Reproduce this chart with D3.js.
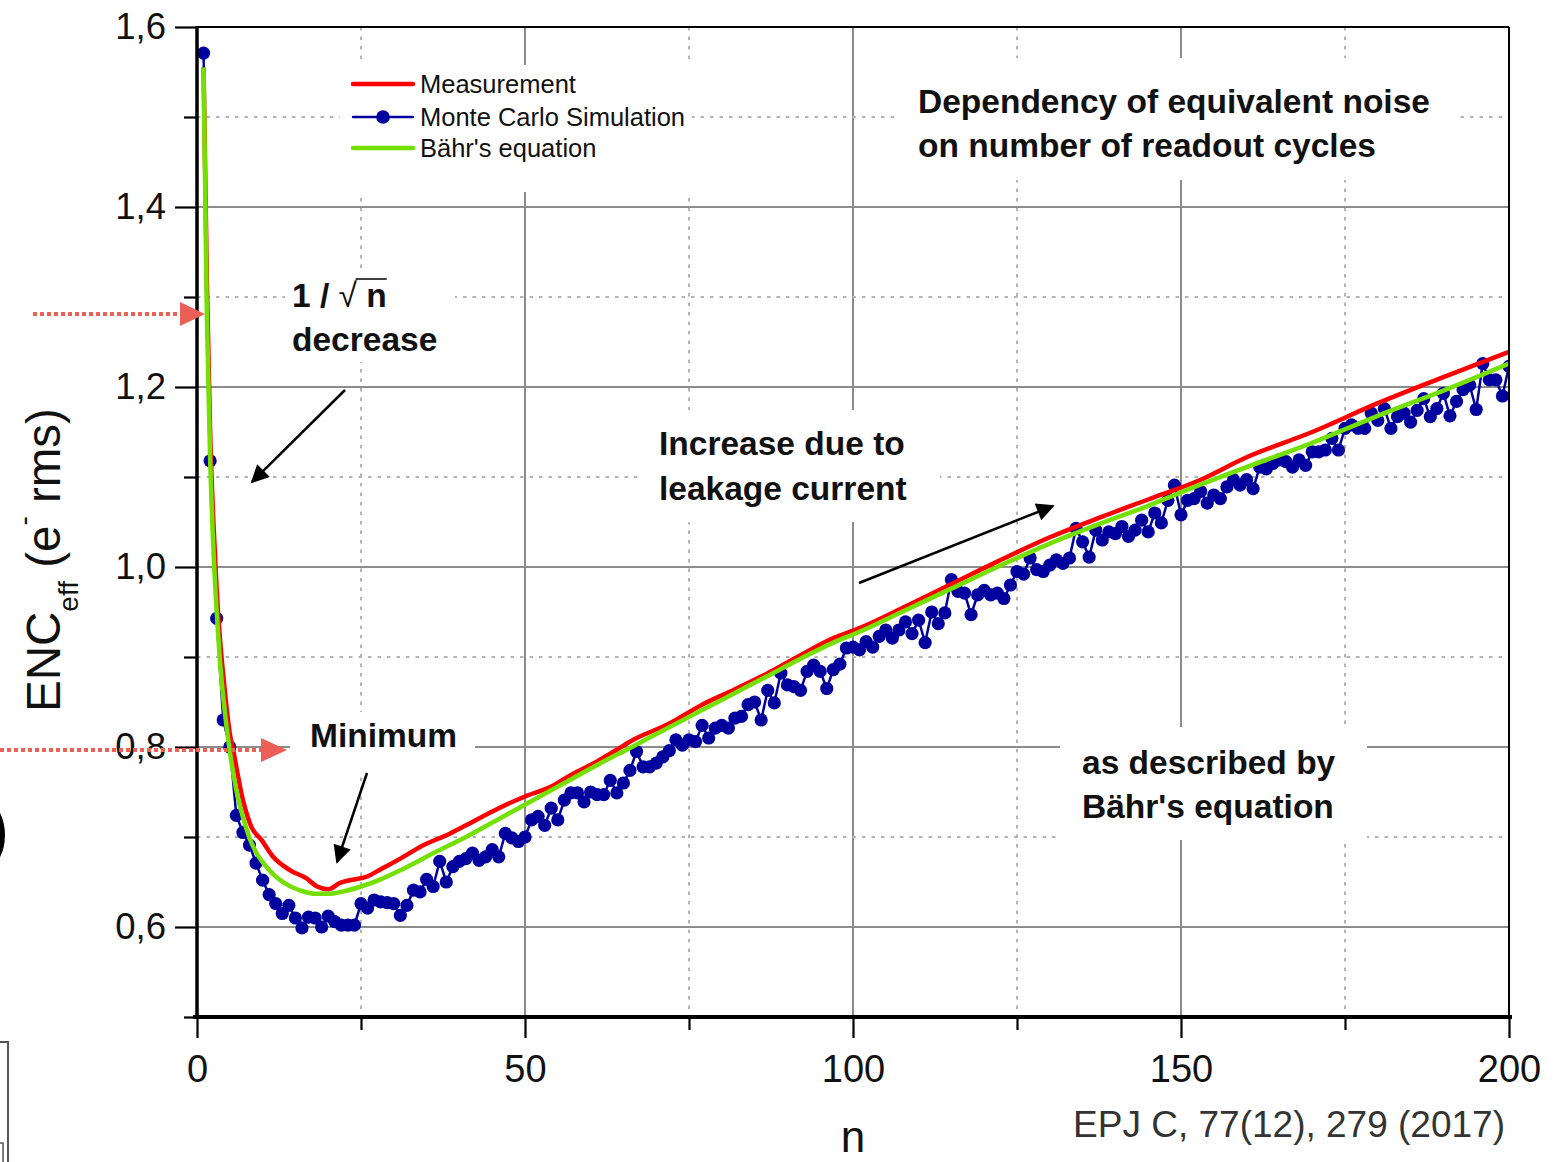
<!DOCTYPE html>
<html><head><meta charset="utf-8">
<script src="https://cdn.jsdelivr.net/npm/d3@7"></script>
<style>
body{margin:0;background:#fff}
svg{display:block}
text{font-family:"Liberation Sans",Arial,Helvetica,sans-serif}
</style>
</head><body>
<svg id="chart" width="1557" height="1162"></svg>
<script>
// ---------------- data ----------------
// Monte Carlo simulation, one value per readout cycle n = 1..200
const mcValues = [
1.571,1.118,0.943,0.830,0.800,0.724,0.705,0.691,0.671,0.652,
0.636,0.626,0.615,0.624,0.610,0.599,0.611,0.610,0.600,0.612,
0.606,0.602,0.602,0.602,0.626,0.621,0.630,0.628,0.627,0.626,
0.613,0.624,0.641,0.639,0.653,0.645,0.673,0.650,0.667,0.673,
0.676,0.682,0.674,0.678,0.686,0.678,0.704,0.699,0.695,0.700,
0.719,0.723,0.713,0.732,0.719,0.741,0.749,0.749,0.739,0.750,
0.747,0.747,0.763,0.749,0.760,0.774,0.795,0.778,0.778,0.782,
0.789,0.796,0.808,0.802,0.808,0.806,0.824,0.810,0.821,0.824,
0.821,0.832,0.834,0.847,0.850,0.830,0.863,0.849,0.882,0.869,
0.867,0.863,0.884,0.891,0.884,0.865,0.886,0.892,0.910,0.911,
0.908,0.917,0.911,0.923,0.930,0.921,0.930,0.939,0.926,0.941,
0.916,0.950,0.937,0.949,0.986,0.973,0.971,0.947,0.969,0.974,
0.969,0.971,0.965,0.980,0.995,0.992,1.010,0.997,0.995,1.002,
1.008,1.004,1.010,1.043,1.028,1.011,1.041,1.030,1.039,1.037,
1.045,1.034,1.041,1.052,1.039,1.060,1.049,1.074,1.091,1.058,
1.074,1.076,1.084,1.071,1.080,1.076,1.089,1.097,1.091,1.097,
1.087,1.111,1.109,1.115,1.119,1.117,1.111,1.119,1.113,1.128,
1.128,1.130,1.143,1.130,1.154,1.158,1.154,1.154,1.171,1.163,
1.176,1.154,1.167,1.171,1.161,1.174,1.187,1.167,1.176,1.193,
1.168,1.184,1.197,1.202,1.175,1.226,1.208,1.208,1.190,1.223
];
// Measurement (red)
const measN = [1,1.5,2,2.5,3,3.5,4,5,5.5,7,8.3,9.8,11.6,14.2,16.7,18.3,20,21.8,23.3,25.9,28.2,31,34,38.6,41,46,50,54,57,61,64,66.5,72,77,82,87,92,97,101,108,115,122,130,138,145,153,160,170,180,190,200];
const measV = [1.555,1.32,1.15,1.05,0.975,0.92,0.88,0.815,0.797,0.741,0.711,0.697,0.678,0.663,0.654,0.645,0.642,0.649,0.652,0.656,0.665,0.676,0.689,0.704,0.713,0.732,0.745,0.756,0.769,0.784,0.797,0.808,0.826,0.847,0.864,0.882,0.902,0.921,0.932,0.956,0.981,1.006,1.033,1.056,1.075,1.097,1.122,1.150,1.182,1.211,1.239];
// Bähr's equation (green)
const bahrN = [1,1.5,2,2.5,3,3.5,4,5,6,7,8,9,10,12,14,16,18,20,22,25,28,31,36,41,46,51,56,61,66,72,77,82,87,92,97,101,108,115,122,130,138,145,150,160,170,180,190,200];
const bahrV = [1.555,1.28,1.12,1.02,0.95,0.895,0.855,0.795,0.752,0.722,0.699,0.683,0.672,0.656,0.646,0.640,0.637,0.637,0.639,0.645,0.653,0.663,0.682,0.700,0.720,0.740,0.760,0.780,0.799,0.822,0.841,0.860,0.879,0.898,0.916,0.928,0.952,0.976,1.000,1.026,1.049,1.068,1.083,1.111,1.138,1.168,1.196,1.226];

const xMajorTicks = [0,50,100,150,200];
const xMinorTicks = [25,75,125,175];
const yMajorTicks = [0.6,0.8,1.0,1.2,1.4,1.6];
const yMinorTicks = [0.5,0.7,0.9,1.1,1.3,1.5];
const yTickLabels = ["0,6","0,8","1,0","1,2","1,4","1,6"];
const seriesNames = ["Measurement","Monte Carlo Simulation","Bähr's equation"];
const seriesColors = ["#ff0000","#00009e","#74e000"];

// ---------------- layout ----------------
const svg = d3.select("#chart");
const L = 197, R = 1509, T = 27, B = 1017;
const x = d3.scaleLinear().domain([0,200]).range([L,R]);
const y = d3.scaleLinear().domain([0.5,1.6]).range([B,T]);

const majorGrid = "#8c8c8c", minorGrid = "#b4b4b4";

// grid
const g = svg.append("g");
g.selectAll(".gxm").data(xMajorTicks.filter(d=>d>0&&d<200)).enter().append("line")
  .attr("x1",d=>x(d)).attr("x2",d=>x(d)).attr("y1",T).attr("y2",B)
  .attr("stroke",majorGrid).attr("stroke-width",2);
g.selectAll(".gxn").data(xMinorTicks).enter().append("line")
  .attr("x1",d=>x(d)).attr("x2",d=>x(d)).attr("y1",T).attr("y2",B)
  .attr("stroke",minorGrid).attr("stroke-width",2).attr("stroke-dasharray","3.5 6");
g.selectAll(".gym").data(yMajorTicks.filter(d=>d<1.6)).enter().append("line")
  .attr("y1",d=>y(d)).attr("y2",d=>y(d)).attr("x1",L).attr("x2",R)
  .attr("stroke",majorGrid).attr("stroke-width",2);
g.selectAll(".gyn").data(yMinorTicks.filter(d=>d>0.5)).enter().append("line")
  .attr("y1",d=>y(d)).attr("y2",d=>y(d)).attr("x1",L).attr("x2",R)
  .attr("stroke",minorGrid).attr("stroke-width",2).attr("stroke-dasharray","3.5 6");

// white annotation backgrounds (they hide grid)
const boxes = [[340,65,352,127],[900,58,555,122],[285,270,170,92],[640,410,300,112],[290,712,185,60],[1060,727,307,113]];
svg.append("g").selectAll("rect").data(boxes).enter().append("rect")
  .attr("x",d=>d[0]).attr("y",d=>d[1]).attr("width",d=>d[2]).attr("height",d=>d[3]).attr("fill","#fff");

// data
svg.append("clipPath").attr("id","plotclip").append("rect")
  .attr("x",L).attr("y",T-10).attr("width",R-L).attr("height",B-T+10);
const dg = svg.append("g").attr("clip-path","url(#plotclip)");
const mc = mcValues.map((v,i)=>({n:i+1,v:v}));
dg.append("path").datum(mc)
  .attr("d",d3.line().x(d=>x(d.n)).y(d=>y(d.v)))
  .attr("fill","none").attr("stroke",seriesColors[1]).attr("stroke-width",2.5);
dg.selectAll("circle.mc").data(mc).enter().append("circle")
  .attr("cx",d=>x(d.n)).attr("cy",d=>y(d.v)).attr("r",6.6).attr("fill",seriesColors[1]);
const meas = measN.map((n,i)=>({n:n,v:measV[i]}));
dg.append("path").datum(meas)
  .attr("d",d3.line().curve(d3.curveMonotoneX).x(d=>x(d.n)).y(d=>y(d.v)))
  .attr("fill","none").attr("stroke",seriesColors[0]).attr("stroke-width",4.5).attr("stroke-linejoin","round");
const bahr = bahrN.map((n,i)=>({n:n,v:bahrV[i]}));
dg.append("path").datum(bahr)
  .attr("d",d3.line().curve(d3.curveMonotoneX).x(d=>x(d.n)).y(d=>y(d.v)))
  .attr("fill","none").attr("stroke",seriesColors[2]).attr("stroke-width",4.5).attr("stroke-linejoin","round");

// frame
svg.append("line").attr("x1",L).attr("x2",R).attr("y1",T).attr("y2",T).attr("stroke","#000").attr("stroke-width",2);
svg.append("line").attr("x1",R).attr("x2",R).attr("y1",T).attr("y2",B).attr("stroke","#000").attr("stroke-width",2);

// axes
const fontAx = "\"Liberation Sans\",Arial,Helvetica,sans-serif";
const yAxis = svg.append("g").attr("transform",`translate(${L},0)`)
  .call(d3.axisLeft(y).tickValues(yMajorTicks).tickFormat((d,i)=>yTickLabels[i]).tickSize(22).tickPadding(9));
const yAxisMinor = svg.append("g").attr("transform",`translate(${L},0)`)
  .call(d3.axisLeft(y).tickValues(yMinorTicks).tickFormat("").tickSize(13));
const xAxis = svg.append("g").attr("transform",`translate(0,${B})`)
  .call(d3.axisBottom(x).tickValues(xMajorTicks).tickFormat(d3.format("d")).tickSize(21).tickPadding(17));
const xAxisMinor = svg.append("g").attr("transform",`translate(0,${B})`)
  .call(d3.axisBottom(x).tickValues(xMinorTicks).tickFormat("").tickSize(13));
[yAxis,yAxisMinor,xAxis,xAxisMinor].forEach(a=>{
  a.select(".domain").remove();
  a.selectAll(".tick line").attr("stroke","#000").attr("stroke-width",2.2);
});
yAxis.selectAll("text").attr("font-size",36.5).attr("font-family",fontAx).attr("fill","#111");
xAxis.selectAll("text").attr("font-size",38).attr("font-family",fontAx).attr("fill","#111");
svg.append("line").attr("x1",L).attr("x2",L).attr("y1",T-1).attr("y2",B+2).attr("stroke","#000").attr("stroke-width",3.5);
svg.append("line").attr("x1",L-4).attr("x2",R+3).attr("y1",B).attr("y2",B).attr("stroke","#000").attr("stroke-width",4);

// axis titles
svg.append("text").attr("x",x(100)).attr("y",1152).attr("text-anchor","middle")
  .attr("font-size",44).attr("fill","#111").text("n");
const yt = svg.append("text").attr("transform","translate(60,560) rotate(-90)")
  .attr("text-anchor","middle").attr("font-size",47.5).attr("fill","#111");
yt.append("tspan").text("ENC");
yt.append("tspan").attr("font-size",28).attr("dy",18).text("eff");
yt.append("tspan").attr("dy",-18).text(" (e");
yt.append("tspan").attr("font-size",28).attr("dy",-27).text("-");
yt.append("tspan").attr("dy",27).text(" rms)");

// citation
svg.append("text").attr("x",1505).attr("y",1137).attr("text-anchor","end")
  .attr("font-size",37).attr("fill","#333").text("EPJ C, 77(12), 279 (2017)");

// legend
const lg = svg.append("g");
const legY = [84,117,148];
[0,1,2].forEach((si,i)=>{
  lg.append("line").attr("x1",353).attr("x2",413).attr("y1",legY[i]).attr("y2",legY[i])
    .attr("stroke",seriesColors[si]).attr("stroke-width",si===1?2.5:4.5).attr("stroke-linecap","round");
  if(si===1) lg.append("circle").attr("cx",383).attr("cy",legY[i]).attr("r",6.8).attr("fill",seriesColors[si]);
  lg.append("text").attr("x",420).attr("y",legY[i]+9).attr("font-size",25.5).attr("fill","#111").text(seriesNames[si]);
});

// annotations
function bold(xp,yp,str){
  return svg.append("text").attr("x",xp).attr("y",yp).attr("font-size",33.5).attr("font-weight","bold").attr("fill","#111").text(str);
}
bold(918,113,"Dependency of equivalent noise");
bold(918,157,"on number of readout cycles");
bold(659,455,"Increase due to");
bold(659,500,"leakage current");
bold(310,747,"Minimum");
bold(1082,774,"as described by");
bold(1082,818,"Bähr's equation");
bold(292,351,"decrease");
// 1 / √n
const t1 = svg.append("text").attr("x",292).attr("y",307).attr("font-size",33.5).attr("fill","#111");
t1.append("tspan").attr("font-weight","bold").text("1 / ");
const sq = t1.append("tspan").attr("font-weight","normal").text("√");
const nn = t1.append("tspan").attr("font-weight","bold").text(" n");
const sqBox = sq.node().getBBox(), nBox = nn.node().getBBox();
svg.append("line").attr("x1",sqBox.x+sqBox.width-2).attr("x2",nBox.x+nBox.width)
  .attr("y1",279).attr("y2",279).attr("stroke","#111").attr("stroke-width",1.6);

// black arrows
const defs = svg.append("defs");
defs.append("marker").attr("id","ah").attr("viewBox","0 0 10 10").attr("refX",9).attr("refY",5)
  .attr("markerWidth",26).attr("markerHeight",18).attr("markerUnits","userSpaceOnUse")
  .attr("orient","auto").append("path").attr("d","M0,0 L10,5 L0,10 z").attr("fill","#000");
const arrows = [[345,390,252,482],[367,773,337,862],[859,583,1053,506]];
svg.append("g").selectAll("line").data(arrows).enter().append("line")
  .attr("x1",d=>d[0]).attr("y1",d=>d[1]).attr("x2",d=>d[2]).attr("y2",d=>d[3])
  .attr("stroke","#000").attr("stroke-width",2.5).attr("marker-end","url(#ah)");

// red dotted arrows
const redC = "#ec5f57";
svg.append("line").attr("x1",33).attr("x2",182).attr("y1",314).attr("y2",314)
  .attr("stroke",redC).attr("stroke-width",4).attr("stroke-dasharray","4 3");
svg.append("path").attr("d","M180,302 L205,314 L180,326 Z").attr("fill",redC);
svg.append("line").attr("x1",0).attr("x2",262).attr("y1",750).attr("y2",750)
  .attr("stroke",redC).attr("stroke-width",4).attr("stroke-dasharray","4 3");
svg.append("path").attr("d","M261,738 L287,750 L261,762 Z").attr("fill",redC);

// left edge slide remnants
svg.append("circle").attr("cx",-46).attr("cy",835).attr("r",48).attr("fill","none").attr("stroke","#000").attr("stroke-width",6);
svg.append("path").attr("d","M0,1042 L8,1042 L8,1162").attr("fill","none").attr("stroke","#555").attr("stroke-width",2);
svg.append("path").attr("d","M0,1143 L3,1143 L3,1162").attr("fill","none").attr("stroke","#555").attr("stroke-width",1.5);
</script>
</body></html>
